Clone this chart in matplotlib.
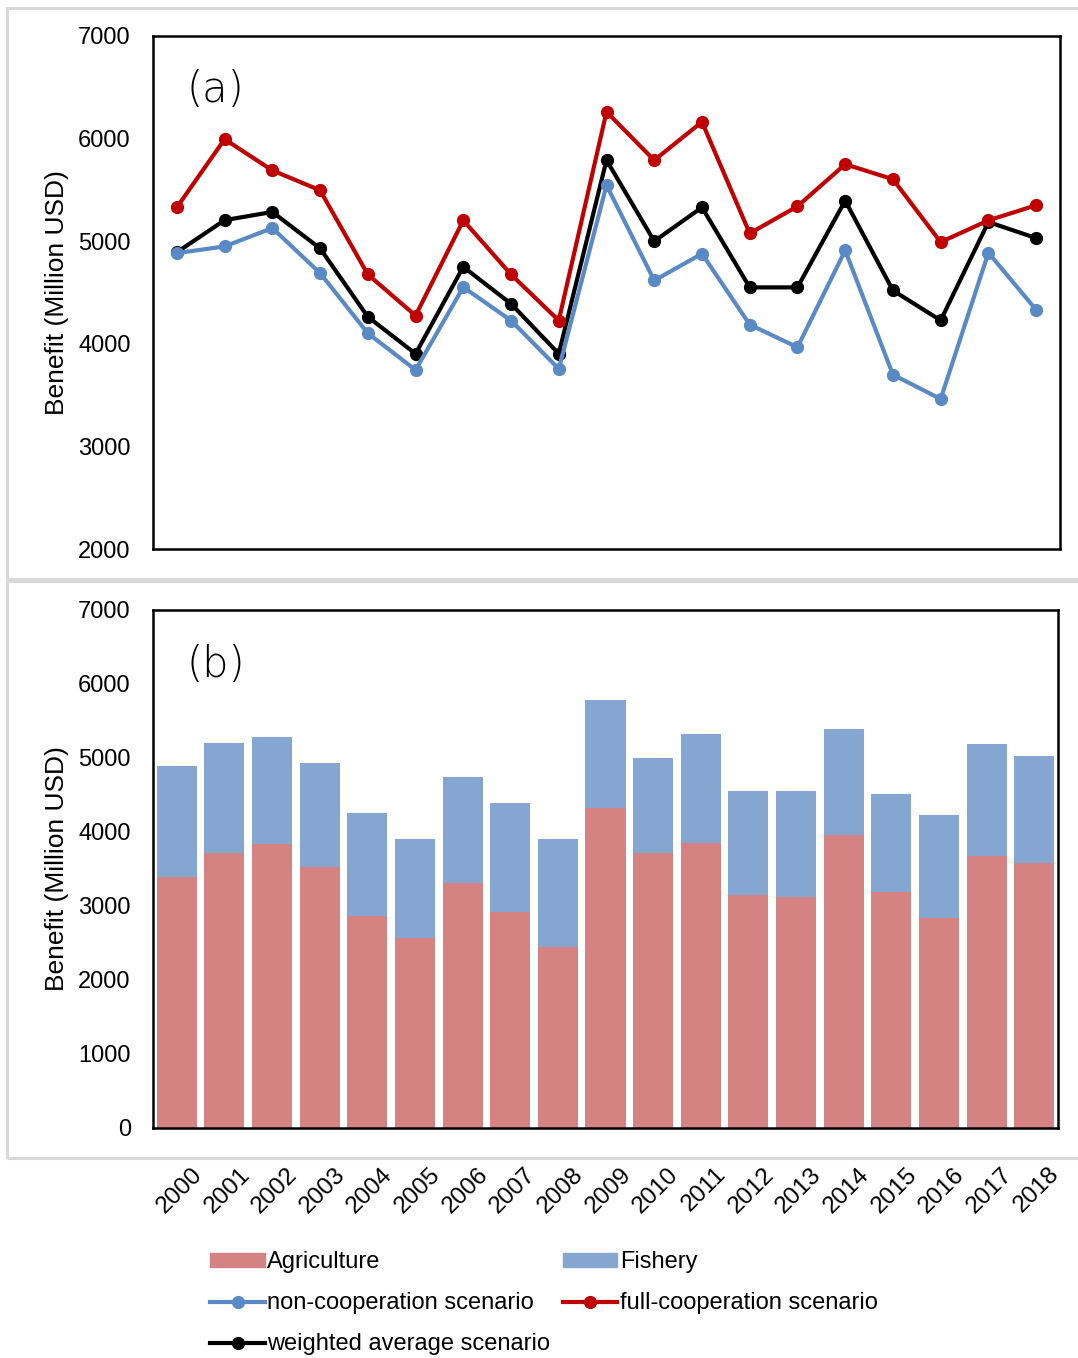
import matplotlib
matplotlib.use('Agg')
import matplotlib.pyplot as plt
import matplotlib.transforms as mtransforms
from matplotlib.patches import Rectangle
from matplotlib.lines import Line2D
from matplotlib.patches import Patch
import numpy as np

plt.rcParams['font.family'] = ['Liberation Sans', 'DejaVu Sans']

###
# Data (Million USD)

years = [str(y) for y in range(2000, 2019)]

non_cooperation = [4884, 4949, 5128, 4689, 4103, 3745, 4552, 4227, 3755, 5545,
                   4617, 4878, 4187, 3966, 4910, 3699, 3462, 4888, 4331]
full_cooperation = [5330, 5994, 5690, 5496, 4676, 4275, 5203, 4676, 4227, 6261,
                    5789, 6163, 5076, 5340, 5750, 5604, 4991, 5203, 5350]
weighted_average = [4892, 5205, 5285, 4930, 4263, 3903, 4750, 4390, 3903, 5790,
                    5000, 5330, 4550, 4550, 5395, 4520, 4228, 5187, 5030]

agriculture = [3388, 3712, 3834, 3531, 2865, 2572, 3307, 2923, 2446, 4320,
               3712, 3847, 3149, 3126, 3959, 3193, 2833, 3680, 3577]
fishery = [1504, 1493, 1451, 1399, 1398, 1331, 1443, 1467, 1457, 1470,
           1288, 1483, 1401, 1424, 1436, 1327, 1395, 1507, 1453]

###
# Styles

c_red = '#C00000'
c_blue = '#5A8AC6'
c_black = '#000000'
c_agri = '#D48282'
c_fish = '#84A6D0'
c_frame = '#D9D9D9'

W, H = 1078, 1358
fig = plt.figure(figsize=(W / 100, H / 100), dpi=100)


def fx(px):
    return px / W


def fy(py):
    return 1 - py / H


# grey chart-area frames
for top, bottom in [(8, 579), (581, 1158)]:
    fig.patches.append(Rectangle((fx(7), fy(bottom)), fx(1080) - fx(7), fy(top) - fy(bottom),
                                 transform=fig.transFigure, fill=False,
                                 edgecolor=c_frame, linewidth=2.2))

ax_a = fig.add_axes([fx(153), fy(549), fx(1060) - fx(153), fy(36) - fy(549)])
ax_b = fig.add_axes([fx(153), fy(1128), fx(1058) - fx(153), fy(610) - fy(1128)])

x = np.arange(len(years))

###
# (a) scenario lines
ax_a.plot(x, weighted_average, color=c_black, lw=3, marker='o', ms=8.5, zorder=3)
ax_a.plot(x, non_cooperation, color=c_blue, lw=3, marker='o', ms=8.5, zorder=4)
ax_a.plot(x, full_cooperation, color=c_red, lw=3, marker='o', ms=8.5, zorder=5)
ax_a.set_ylim(2000, 7000)
ax_a.set_yticks(range(2000, 7001, 1000))
ax_a.set_xticks([])
ax_a.text(0.037, 0.895, '(a)', transform=ax_a.transAxes, fontsize=30,
          va='center', ha='left', family=['DejaVu Sans'], fontweight='light')

###
# (b) stacked bars
ax_b.bar(x, agriculture, width=0.84, color=c_agri, zorder=2)
ax_b.bar(x, fishery, width=0.84, bottom=agriculture, color=c_fish, zorder=2)
ax_b.set_ylim(0, 7000)
ax_b.set_yticks(range(0, 7001, 1000))
ax_b.set_xticks(x)
ax_b.set_xticklabels([])
ax_b.tick_params(axis='x', length=0)

# year labels sit below the grey frame, slanted
label_tr = ax_b.get_xaxis_transform() + mtransforms.ScaledTranslation(0.22, -0.43, fig.dpi_scale_trans)
for xi, yr in zip(x, years):
    ax_b.text(xi, 0, yr, transform=label_tr, rotation=45, ha='right', va='center',
              rotation_mode='anchor', fontsize=17.5, clip_on=False)

ax_b.text(0.037, 0.894, '(b)', transform=ax_b.transAxes, fontsize=30,
          va='center', ha='left', family=['DejaVu Sans'], fontweight='light')

for ax in (ax_a, ax_b):
    ax.set_xlim(-0.5, len(years) - 0.5)
    ax.tick_params(axis='y', length=0, pad=16, labelsize=17)
    for s in ax.spines.values():
        s.set_linewidth(1.8)
        s.set_color('black')
    ax.set_ylabel('Benefit (Million USD)', fontsize=19)
    ax.yaxis.set_label_coords(-0.093, 0.5)

###
# legend, filled row by row
handles = [
    Patch(color=c_agri),
    Line2D([], [], color=c_blue, lw=3, marker='o', ms=8.5),
    Line2D([], [], color=c_black, lw=3, marker='o', ms=8.5),
    Patch(color=c_fish),
    Line2D([], [], color=c_red, lw=3, marker='o', ms=8.5),
]
labels = ['Agriculture', 'non-cooperation scenario', 'weighted average scenario',
          'Fishery', 'full-cooperation scenario']
fig.legend(handles, labels, ncol=2, loc='upper left',
           bbox_to_anchor=(fx(201), fy(1242)), frameon=False, fontsize=17,
           handlelength=2.3, handleheight=0.5, handletextpad=0.1,
           columnspacing=0.55, labelspacing=0.8, borderaxespad=0)

fig.savefig('out.png', dpi=100)
